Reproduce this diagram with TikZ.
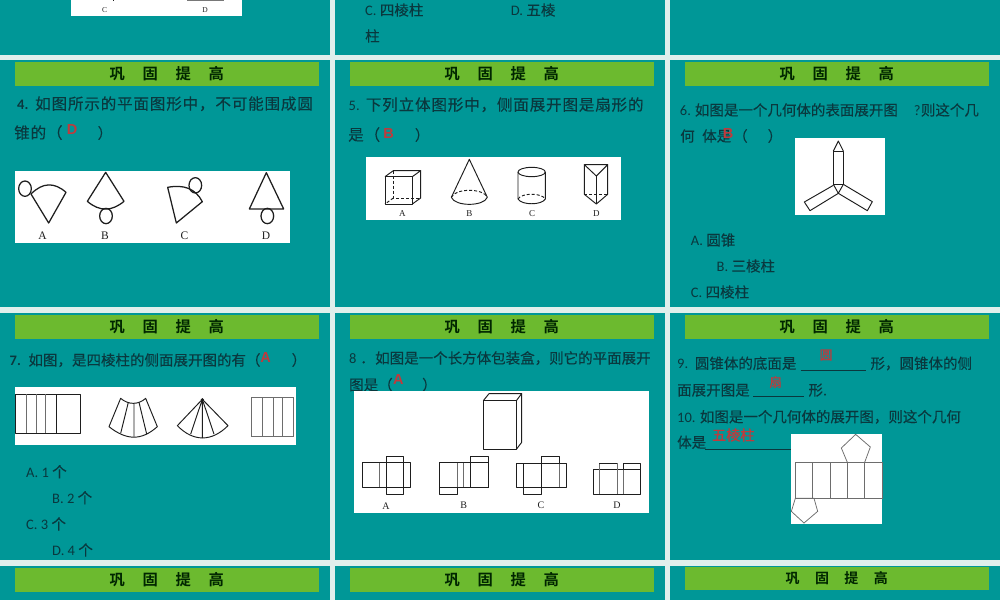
\documentclass[tikz,border=0pt]{standalone}
\usepackage{fontspec}
\setmainfont{Carlito}
\newfontfamily\cjk{Noto Sans CJK SC}[FakeBold=0.15]
\newfontfamily\cjkb{Noto Sans CJK SC}[BoldFont={* Bold}]
\newfontfamily\lab{Liberation Serif}
\newfontfamily\redfont{Liberation Sans}
\definecolor{teal0}{HTML}{009797}
\definecolor{gapc}{HTML}{E0EFEC}
\definecolor{green0}{HTML}{6CBA2F}
\definecolor{ink}{HTML}{0A383E}
\definecolor{redc}{HTML}{C03A3C}
\definecolor{fig}{HTML}{1E1E1E}
\newcommand\cs[1]{{\cjk #1}}
\newcommand\cw[1]{{\fontsize{15.6}{17}\selectfont\cjk\addfontfeature{LetterSpace=5}#1}}
\newcommand\mytx[4]{\node[txt] (#1) at (#2,#3) {#4};}
\newcommand\myred[4]{\node[redt] (#1) at (#2,#3) {#4};}
\newcommand\mylab[5]{\node[figlab,font=\lab\fontsize{#5}{#5}\selectfont] (#1) at (#2,#3) {#4};}
\tikzset{
 txt/.style={anchor=base west,inner sep=0pt,yshift=-5.5pt,text=ink,font=\fontsize{14.5}{16}\selectfont},
 redt/.style={anchor=center,inner sep=0pt,text=redc,font=\redfont\bfseries\fontsize{14.5}{17}\selectfont},
 redcn/.style={anchor=center,inner sep=0pt,text=redc,font=\cjk\fontsize{12.5}{14}\selectfont\addfontfeature{FakeBold=0.5}},
 figlab/.style={anchor=center,inner sep=0pt,text=fig},
 panel/.style={fill=teal0,draw=none},
 zz/.style 2 args={shift={(#1,#2)},x=0.33333pt,y=-0.33333pt},
 ln/.style={draw=fig,line width=0.95pt,line join=round},
 lnb/.style={draw=fig,line width=1.25pt,line join=round},
 lg/.style={draw=fig!65,line width=1pt},
 whitep/.style={fill=white},
 ban/.style={fill=green0,draw=none,inner sep=0pt,text=black!85!green,font=\cjkb\bfseries\fontsize{15.3}{16}\selectfont},
 uline/.style={draw=ink,line width=0.8pt},
}
\begin{document}
\begin{tikzpicture}[x=1pt,y=-1pt]
\useasboundingbox (0,0) rectangle (1000,600);
\fill[gapc] (0,0) rectangle (1000,600);
% panels
\foreach \xa/\xb in {0/330,334.5/665,670/1000}{
 \foreach \ya/\yb in {0/54.5,60/307,313/559.5,566/600}{
  \fill[panel] (\xa,\ya) rectangle (\xb,\yb);
 }
}
% banners
\foreach \nm/\cx/\cy in {a/166.75/73.5,b/501.75/73.5,c/836.75/73.5,d/166.75/326.5,e/501.75/326.5,f/836.75/326.5,g/166.75/579.5,h/501.75/579.5}{
 \node[ban,minimum width=304.5pt,minimum height=24pt] (ban\nm) at (\cx,\cy) {巩\hspace{17.7pt}固\hspace{17.7pt}提\hspace{17.7pt}高};
}
\node[ban,minimum width=304.5pt,minimum height=23pt,font=\cjkb\bfseries\fontsize{14}{16}\selectfont] (bani) at (836.75,578.5) {巩\hspace{15.4pt}固\hspace{15.4pt}提\hspace{15.4pt}高};

% ---- top remnant
\fill[whitep] (71,0) rectangle (241.5,16);
\draw[draw=fig!60,line width=1pt] (187,0.5) -- (224,0.5);
\fill[fig] (112.5,0) rectangle (114,1);
\mylab{topc}{104.5}{10}{C}{7.5}
\mylab{topd}{205}{10}{D}{7.5}
\mytx{tc}{365}{10}{C. \cs{四棱柱}}
\mytx{td}{510.7}{10}{D. \cs{五棱}}
\mytx{tz}{365}{36}{\cs{柱}}

% ---- slide 4
\mytx{q4n}{17}{104}{\textbf{4.}}
\mytx{q4a}{35}{104}{\cw{如图所示的平面图形中，不可能围成圆}}
\mytx{q4b}{14}{133}{\cw{锥的（}}
\myred{q4r}{72}{130}{D}
\mytx{q4c}{97.5}{133}{\cs{）}}
\fill[whitep] (14.5,171) rectangle (290,243);
\begin{scope}[zz={0}{0}]
 \draw[lnb] (146,669) -- (93,582) .. controls (128,547) and (163,546) .. (198,577) -- cycle;
 \draw[lnb] (75,566) ellipse [x radius=19,y radius=23];
 \draw[lnb] (317,517) -- (262,604) .. controls (298,635) and (335,635) .. (372,604) -- cycle;
 \draw[lnb] (318,648) ellipse [x radius=19,y radius=23];
 \draw[lnb] (529,669) -- (503,562) .. controls (551,553) and (586,565) .. (607,605) -- cycle;
 \draw[lnb] (586,556) ellipse [x radius=19,y radius=23];
 \draw[lnb] (799,518) -- (748,627) -- (851,627) -- cycle;
 \draw[lnb] (802,648) ellipse [x radius=19,y radius=23];
\end{scope}
\mylab{f4a}{42.5}{236}{A}{11.5}
\mylab{f4b}{105}{236}{B}{11.5}
\mylab{f4c}{184.5}{236}{C}{11.5}
\mylab{f4d}{266}{236}{D}{11.5}

% ---- slide 5
\mytx{q5n}{348.5}{105}{5.}
\mytx{q5a}{365.7}{105}{\cw{下列立体图形中，侧面展开图是扇形的}}
\mytx{q5b}{348}{135}{\cw{是（}}
\myred{q5r}{388.7}{134}{B}
\mytx{q5c}{414.7}{135}{\cs{）}}
\fill[whitep] (366,156.5) rectangle (621,220);
\begin{scope}[zz={335}{0}]
 % cube
 \draw[ln] (150,530) rectangle (232,612);
 \draw[ln] (150,530) -- (175,512) -- (257,512) -- (232,530);
 \draw[ln] (257,512) -- (257,594) -- (232,612);
 \draw[ln,densely dashed] (175,512) -- (175,594) -- (257,594);
 \draw[ln,densely dashed] (175,594) -- (150,612);
 % cone
 \draw[ln] (349,592) -- (403,478) -- (457,592);
 \draw[ln,densely dashed] (349,592) .. controls (360,564) and (446,564) .. (457,592);
 \draw[ln] (349,592) .. controls (360,620) and (446,620) .. (457,592);
 % cylinder
 \draw[ln] (590,516) ellipse [x radius=41,y radius=14];
 \draw[ln] (549,516) -- (549,597) .. controls (560,616) and (620,616) .. (631,597) -- (631,516);
 \draw[ln,densely dashed] (549,597) .. controls (560,578) and (620,578) .. (631,597);
 % prism
 \draw[ln] (748,494) -- (818,494) -- (784,528) -- cycle;
 \draw[ln] (748,494) -- (748,583) -- (784,612) -- (818,583) -- (818,494);
 \draw[ln] (784,528) -- (784,612);
 \draw[ln,densely dashed] (748,583) -- (818,583);
\end{scope}
\mylab{f5a}{402.3}{214}{A}{9}
\mylab{f5b}{469.3}{214}{B}{9}
\mylab{f5c}{532}{214}{C}{9}
\mylab{f5d}{596.3}{214}{D}{9}

% ---- slide 6
\mytx{q6n}{679.7}{110}{6.}
\mytx{q6a}{694.7}{110}{\cs{如图是一个几何体的表面展开图}}
\mytx{q6q}{913.7}{110}{?}
\mytx{q6d}{920.7}{110}{\cs{则这个几}}
\mytx{q6b}{680}{136}{\cs{何}}
\mytx{q6e}{702}{136}{\cs{体是}}
\myred{q6r}{728}{134}{B}
\mytx{q6c}{733}{136}{\cs{（}}
\mytx{q6g}{767.5}{136}{\cs{）}}
\fill[whitep] (795.3,138) rectangle (885.3,214.5);
\begin{scope}[zz={668}{0}]
 \draw[ln] (496,453) -- (511,423) -- (526,453);
 \draw[ln] (496,453) rectangle (526,553);
 \draw[ln] (496,553) -- (511,580) -- (526,553);
 \draw[ln] (496,556) -- (409,606) -- (426,632) -- (511,580);
 \draw[ln] (526,553) -- (613,605) -- (598,632) -- (511,580);
\end{scope}
\mytx{o6a}{690.7}{240}{A. \cs{圆锥}}
\mytx{o6b}{716.5}{266}{B. \cs{三棱柱}}
\mytx{o6c}{690.7}{292}{C. \cs{四棱柱}}

% ---- slide 7
\mytx{q7n}{9.5}{360}{\textbf{7.}}
\mytx{q7a}{28.3}{360}{\cs{如图，是四棱柱的侧面展开图的有（}}
\myred{q7r}{265.5}{358}{A}
\mytx{q7c}{291.5}{360}{\cs{）}}
\fill[whitep] (14.5,386.7) rectangle (295.5,444.7);
\begin{scope}[zz={0}{310}]
 \draw[ln] (45,253) rectangle (242,370);
 \draw[lg] (78,253) -- (78,370) (110,253) -- (110,370) (136,253) -- (136,370);
 \draw[ln] (170,253) -- (170,370);
 \draw[ln] (362,265) -- (327,350) .. controls (380,392) and (425,392) .. (472,350) -- (437,265) .. controls (415,285) and (385,285) .. (362,265) -- cycle;
 \draw[ln] (385,277) -- (362,370) (402,280) -- (402,380) (417,277) -- (440,372);
 \draw[ln] (607,268) -- (532,347) .. controls (580,396) and (635,396) .. (684,347) -- cycle;
 \draw[ln] (607,268) -- (572,372) (607,268) -- (607,384) (607,268) -- (642,372);
 \fill[fig] (607,269) circle [radius=5];
 \draw[lg] (755,262) rectangle (881,380);
 \draw[lg] (788,262) -- (788,380) (820,262) -- (820,380) (847,262) -- (847,380);
\end{scope}
\mytx{o7a}{26}{471.7}{A. 1 \cs{个}}
\mytx{o7b}{52}{497.7}{B. 2 \cs{个}}
\mytx{o7c}{26}{524}{C. 3 \cs{个}}
\mytx{o7d}{52}{550}{D. 4 \cs{个}}

% ---- slide 8
\mytx{q8n}{349}{358}{8}
\mytx{q8p}{360}{358}{\cs{．}}
\mytx{q8a}{375}{358}{\cs{如图是一个长方体包装盒，则它的平面展开}}
\mytx{q8b}{349}{384.7}{\cs{图是（}}
\myred{q8r}{398.3}{380}{A}
\mytx{q8c}{422}{384.7}{\cs{）}}
\fill[whitep] (354.3,391.3) rectangle (648.7,513);
\begin{scope}[zz={335}{310}]
 \draw[ln] (445,272) rectangle (544,418);
 \draw[ln] (445,272) -- (462,251) -- (560,251) -- (544,272);
 \draw[ln] (560,251) -- (560,397) -- (544,418);
 % A
 \draw[ln] (81,458) rectangle (227,532);
 \draw[lg] (134,458) -- (134,532);
 \draw[ln] (153,438) rectangle (206,552);
 % B
 \draw[ln] (312,458) rectangle (459,532);
 \draw[lg] (367,458) -- (367,532) (385,458) -- (385,532);
 \draw[ln] (406,438) rectangle (459,532);
 \draw[ln] (312,532) rectangle (367,552);
 % C
 \draw[ln] (543,460) rectangle (694,532);
 \draw[lg] (673,460) -- (673,532);
 \draw[ln] (619,440) rectangle (673,460);
 \draw[ln] (565,460) -- (565,552) -- (619,552) -- (619,460);
 % D
 \draw[ln] (775,478) rectangle (917,552);
 \draw[lg] (793,460) -- (793,552) (847,460) -- (847,552);
 \draw[ln] (793,460) -- (847,460);
 \draw[lg] (864,460) -- (864,552);
 \draw[ln] (864,460) rectangle (917,478);
\end{scope}
\mylab{f8a}{386}{505.7}{A}{10}
\mylab{f8b}{463.7}{505.7}{B}{10}
\mylab{f8c}{541}{505.7}{C}{10}
\mylab{f8d}{617}{505.7}{D}{10}

% ---- slide 9/10
\mytx{q9n}{677}{363.3}{9.}
\mytx{q9a}{694.7}{363.3}{\cs{圆锥体的底面是}}
\draw[uline] (800.7,370.5) -- (866,370.5);
\mytx{q9b}{870.3}{363.3}{\cs{形，圆锥体的侧}}
\node[redcn] (q9r) at (826,355) {圆};
\mytx{q9c}{677}{390}{\cs{面展开图是}}
\draw[uline] (753.3,396.3) -- (804,396.3);
\mytx{q9d}{808.3}{390}{\cs{形.}}
\node[redcn] (q9s) at (775.7,382) {扇};
\mytx{q10n}{677}{416.7}{10.}
\mytx{q10a}{699.7}{416.7}{\cs{如图是一个几何体的展开图，则这个几何}}
\mytx{q10b}{677}{442.3}{\cs{体是}}
\draw[uline] (705.3,449) -- (791,449);
\node[redcn,font=\cjk\fontsize{14.2}{16}\selectfont\addfontfeature{FakeBold=0.5}] (q10r) at (733.3,435) {五棱柱};
\fill[whitep] (791,433.7) rectangle (882.3,523.7);
\begin{scope}[zz={668}{310}]
 \draw[lg] (382,457) rectangle (643,565);
 \draw[lg] (434,457) -- (434,565) (486,457) -- (486,565) (538,457) -- (538,565) (590,457) -- (590,565);
 \draw[lg,line width=0.75pt] (538,457) -- (520,414) -- (563,373) -- (607,411) -- (590,457);
 \draw[lg,line width=0.75pt] (382,565) -- (370,604) -- (408,639) -- (449,604) -- (438,565) -- cycle;
\end{scope}
\end{tikzpicture}
\end{document}
